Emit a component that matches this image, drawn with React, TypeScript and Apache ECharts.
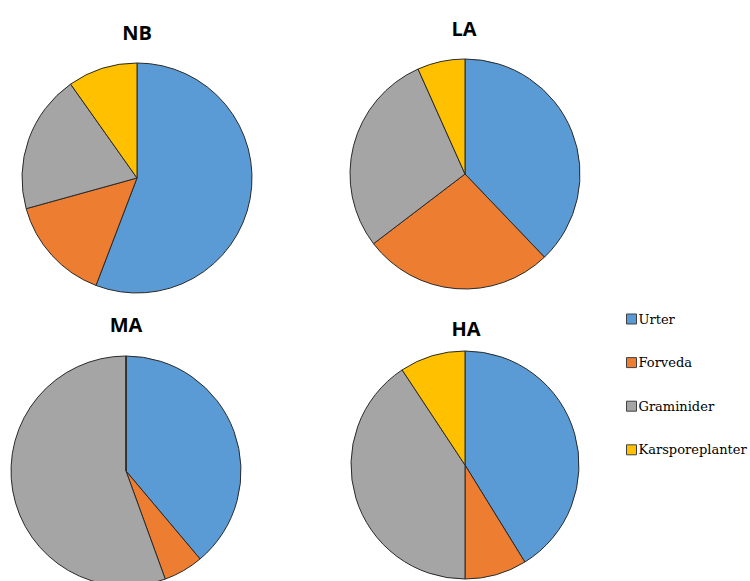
import React, { useEffect, useRef } from "react";
import * as echarts from "echarts";

const categories = ["Urter", "Forveda", "Graminider", "Karsporeplanter"];
const colors = ["#5B9BD5", "#ED7D31", "#A5A5A5", "#FFC000"];
const panelTitles = ["NB", "LA", "MA", "HA"];
const nbValues = [55.8, 14.9, 19.5, 9.8];
const laValues = [37.9, 26.8, 28.7, 6.7];
const maValues = [38.9, 5.6, 55.6, 0];
const haValues = [41.2, 8.8, 40.7, 9.3];

const panels = [
  { title: panelTitles[0], values: nbValues, center: [137, 178], radius: 115, titlePos: [137, 32] },
  { title: panelTitles[1], values: laValues, center: [465, 174], radius: 115, titlePos: [464, 28] },
  { title: panelTitles[2], values: maValues, center: [126, 471], radius: 115, titlePos: [126, 324] },
  { title: panelTitles[3], values: haValues, center: [465, 465], radius: 114, titlePos: [466, 328] },
];

const legendFont = "DejaVu Serif";

export default function App() {
  const ref = useRef<HTMLDivElement>(null);
  useEffect(() => {
    if (!ref.current) return;
    const chart = echarts.init(ref.current, undefined, { renderer: "svg" });
    chart.setOption({
      animation: false,
      backgroundColor: "#ffffff",
      color: colors,
      legend: {
        orient: "vertical",
        left: 626,
        top: 311,
        data: categories,
        icon: "rect",
        itemWidth: 10,
        itemHeight: 10,
        itemGap: 27.6,
        itemStyle: { borderColor: "#404040", borderWidth: 1 },
        textStyle: {
          fontFamily: legendFont,
          fontSize: 13,
          lineHeight: 16,
          color: "#000000",
          padding: [0, 0, 0, -3],
        },
        padding: 0,
      },
      graphic: panels.map((p) => ({
        type: "text",
        x: p.titlePos[0],
        y: p.titlePos[1],
        style: {
          text: p.title,
          fontFamily: "Open Sans",
          fontWeight: "bold",
          fontSize: 20,
          fill: "#000000",
          textAlign: "center",
          textVerticalAlign: "middle",
        },
      })),
      series: panels.map((p) => ({
        type: "pie",
        name: p.title,
        center: p.center,
        radius: p.radius,
        startAngle: 90,
        clockwise: true,
        label: { show: false },
        labelLine: { show: false },
        emphasis: { disabled: true },
        itemStyle: { borderColor: "#2a2a2a", borderWidth: 1 },
        data: categories.map((c, i) => ({ name: c, value: p.values[i] })),
      })),
    });
    return () => chart.dispose();
  }, []);
  return (
    <div
      ref={ref}
      style={{ position: "fixed", left: 0, top: 0, width: 750, height: 581 }}
    />
  );
}
